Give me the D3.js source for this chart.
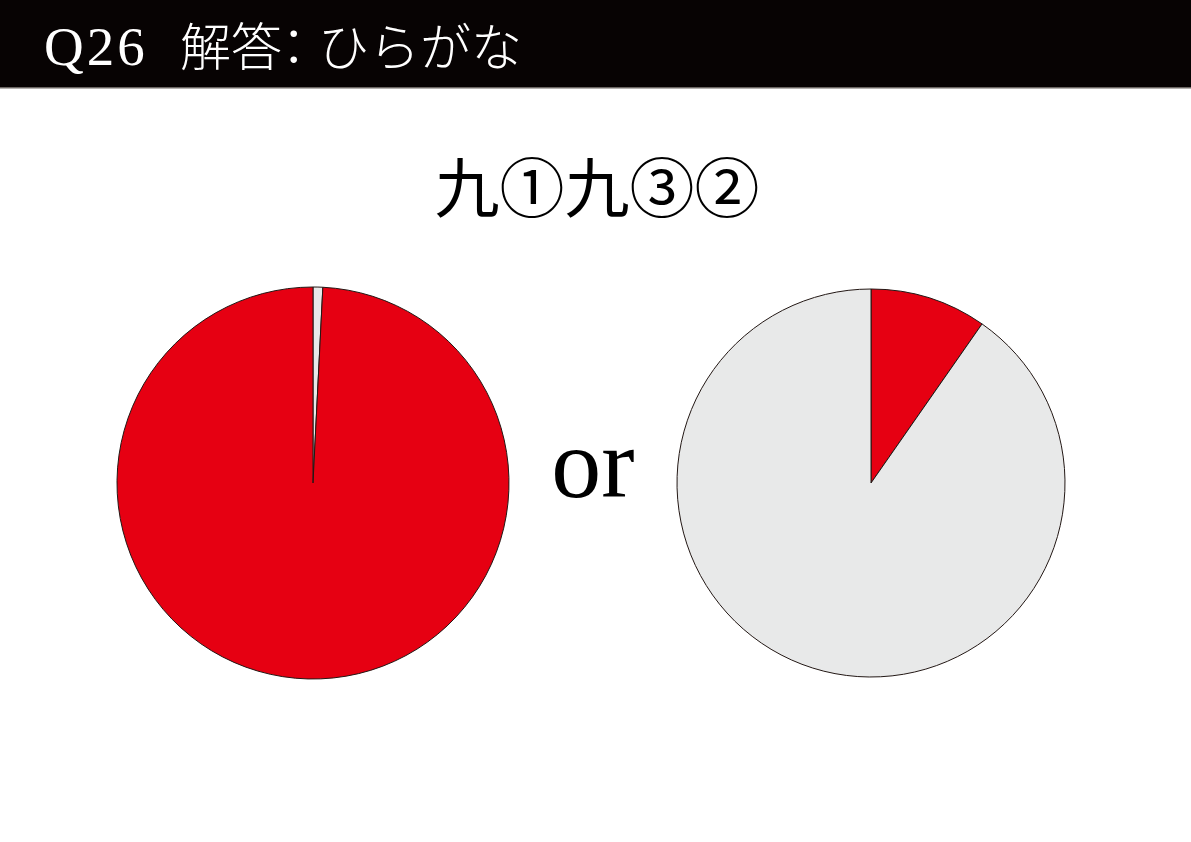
<!DOCTYPE html>
<html><head><meta charset="utf-8">
<script src="https://cdn.jsdelivr.net/npm/d3@7"></script>
<style>html,body{margin:0;padding:0;background:#fff;}svg{display:block;}</style>
</head><body>
<script>
const headerTitle = "Q26";
const headerRest = ["解答", "：", "ひらがな"];
const answer = "九①九③②";
const orText = "or";
const leftLabels = ["other", "answer"];
const leftValues = [0.8, 99.2];
const rightLabels = ["answer", "other"];
const rightValues = [9.7, 90.3];
const colorMap = {answer: "#e60012", other: "#e8e9e9"};

const W = 1191, H = 842;
const svg = d3.select("body").append("svg").attr("width", W).attr("height", H);

svg.append("rect").attr("x",0).attr("y",0).attr("width",W).attr("height",88).attr("fill","#070303");
svg.append("rect").attr("x",0).attr("y",87).attr("width",W).attr("height",1.5).attr("fill","#6b6663");

svg.append("text").attr("x",44).attr("y",65).attr("fill","#fff")
  .style("font-family","'Liberation Serif', serif").style("font-size","55px")
  .style("letter-spacing","3px").style("font-weight","normal").text(headerTitle);

const hx = [180, 281, 318];
headerRest.forEach((t,i)=>{
  svg.append("text").attr("x",hx[i]).attr("y",66).attr("fill","#fff")
    .style("font-family","'Noto Sans CJK JP'").style("font-size","51px")
    .style("font-feature-settings", i===1 ? "'halt'" : "normal")
    .style("font-weight","300").text(t);
});

svg.append("text").attr("x",597).attr("y",212).attr("text-anchor","middle").attr("fill","#000")
  .style("font-family","'Noto Sans CJK JP'").style("font-size","65px").text(answer);

svg.append("text").attr("x",593).attr("y",497).attr("text-anchor","middle").attr("fill","#000")
  .style("font-family","'Liberation Serif', serif").style("font-size","100px").text(orText);

function drawPie(cx, cy, r, labels, values){
  const data = labels.map((l,i)=>({label:l, value:values[i]}));
  const pie = d3.pie().sort(null).value(d=>d.value);
  const arc = d3.arc().innerRadius(0).outerRadius(r);
  const g = svg.append("g").attr("transform",`translate(${cx},${cy})`);
  g.selectAll("path").data(pie(data)).join("path")
    .attr("d",arc).attr("fill",d=>colorMap[d.data.label])
    .attr("stroke","#231815").attr("stroke-width",1);
}
drawPie(313, 483, 196, leftLabels, leftValues);
drawPie(871, 483, 194, rightLabels, rightValues);
</script>
</body></html>
